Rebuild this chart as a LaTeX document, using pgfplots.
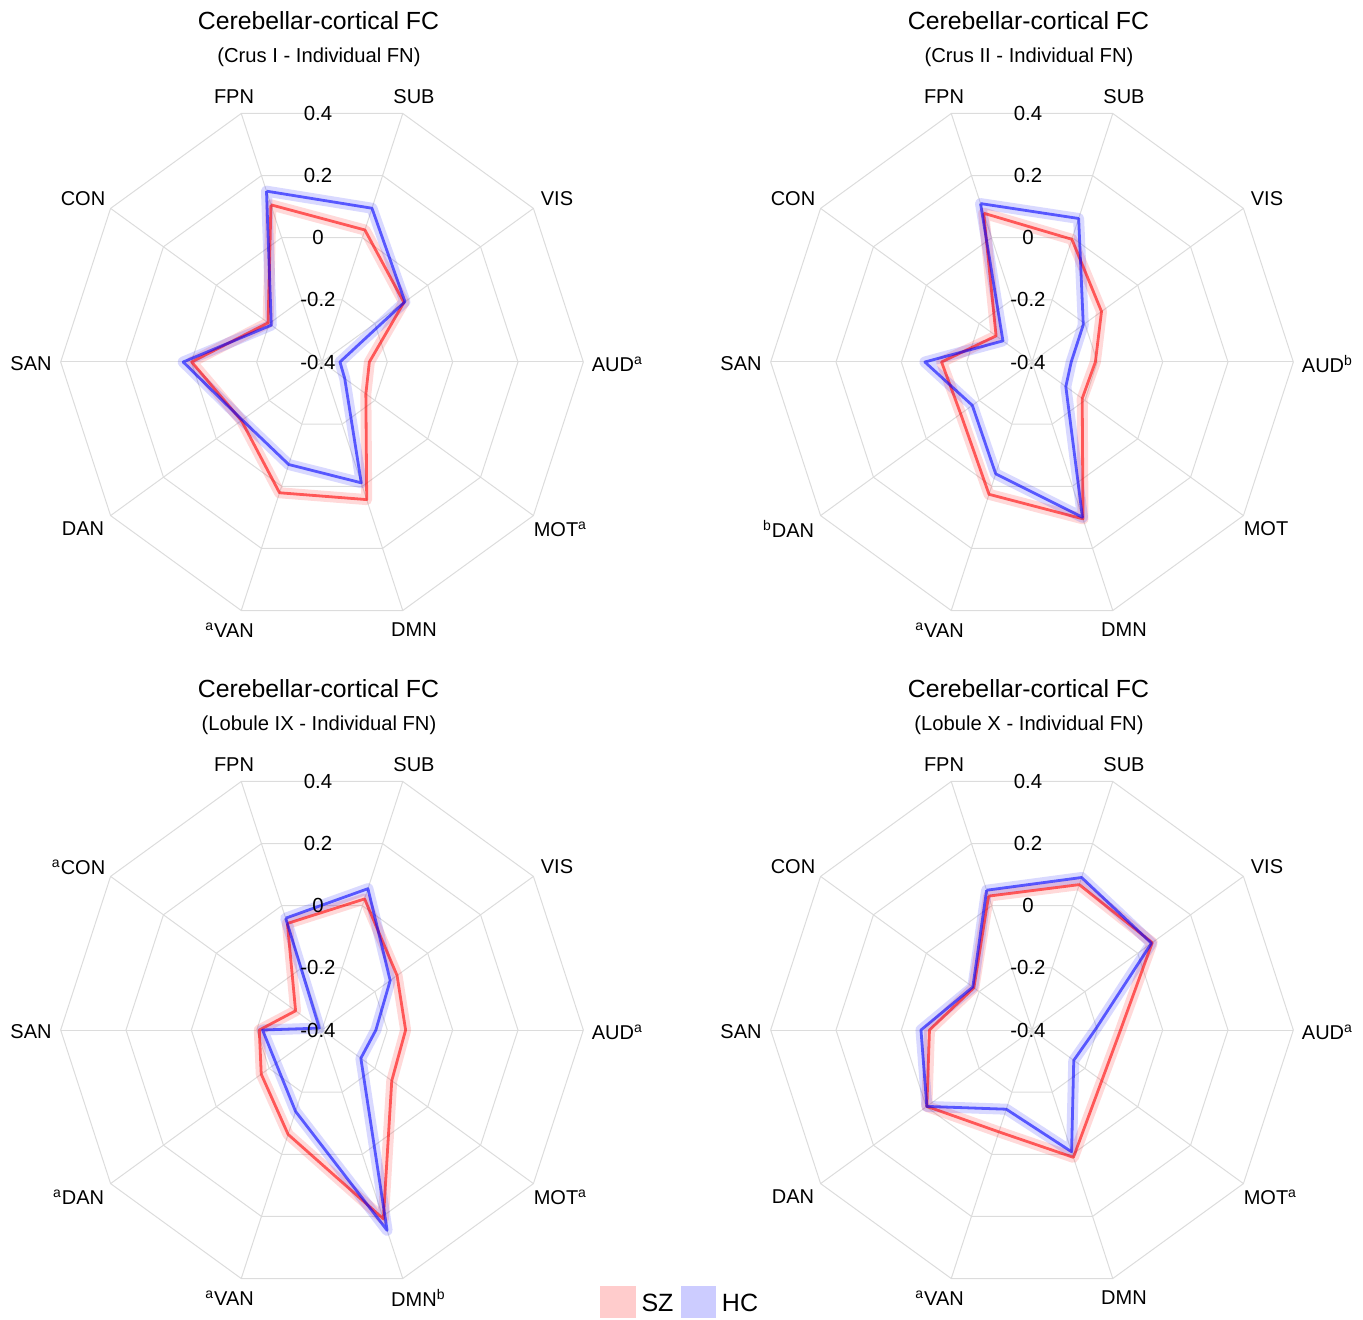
\documentclass[border=0pt]{standalone}
\usepackage{pgfplots}
\pgfplotsset{compat=1.18}
\usepackage{pgfplotstable}
\usepackage{fontspec}
\setmainfont{Liberation Sans}

\definecolor{gridc}{RGB}{220,220,220}
\definecolor{legsz}{RGB}{255,204,204}
\definecolor{leghc}{RGB}{204,204,255}

% angle (deg) of each spoke, mean FC for SZ and HC
% FPN SUB VIS AUD MOT DMN VAN DAN SAN CON (first row repeated to close)
\pgfplotstableread{
ang   SZ      HC
108   0.106   0.150
72    0.025   0.095
36   -0.090  -0.086
0    -0.255  -0.345
-36  -0.234  -0.314
-72   0.043  -0.011
-108  0.021  -0.070
-144 -0.095  -0.098
180  -0.001   0.025
144  -0.196  -0.208
108   0.106   0.150
}{\tA}
\pgfplotstableread{
ang   SZ      HC
108   0.079   0.110
72   -0.005   0.062
36   -0.137  -0.206
0    -0.206  -0.280
-36  -0.210  -0.272
-72   0.105   0.100
-108  0.026  -0.040
-144 -0.130  -0.174
180  -0.123  -0.072
144  -0.264  -0.290
108   0.079   0.110
}{\tB}
\pgfplotstableread{
ang   SZ      HC
108  -0.057  -0.040
72    0.022   0.055
36   -0.116  -0.142
0    -0.144  -0.235
-36  -0.136  -0.253
-72   0.208   0.245
-108 -0.064  -0.138
-144 -0.170  -0.226
180  -0.208  -0.218
144  -0.300  -0.390
108  -0.057  -0.040
}{\tC}
\pgfplotstableread{
ang   SZ      HC
108   0.031   0.050
72    0.068   0.091
36    0.055   0.052
0    -0.129  -0.207
-36  -0.136  -0.242
-72   0.010  -0.008
-108 -0.072  -0.145
-144 -0.002  -0.002
180  -0.086  -0.060
144  -0.180  -0.176
108   0.031   0.050
}{\tD}

\pgfplotsset{
  szband/.style={draw=red, opacity=0.15, line width=5.5pt, line join=round, line cap=round},
  hcband/.style={draw=blue, opacity=0.15, line width=5.5pt, line join=round, line cap=round},
  szline/.style={draw=red, opacity=0.6, line width=1.4pt, line join=round},
  hcline/.style={draw=blue, opacity=0.6, line width=1.4pt, line join=round},
  radar/.style={hide axis, anchor=center, x=163.3pt, y=163.3pt,
    xmin=-1, xmax=1, ymin=-1, ymax=1, clip=false},
}

\newcommand\radplot[3]{\addplot[#1] table[x expr={(\thisrow{#2}+0.4)*cos(\thisrow{ang})}, y expr={(\thisrow{#2}+0.4)*sin(\thisrow{ang})}] {#3};}

\newcommand\decor[3]{%
\begin{scope}[shift={(#1,#2)}]
\foreach \k in {1,2,3,4}{\draw[gridc, line width=0.5pt] (0:\k*65.33) \foreach \a in {36,72,...,324}{-- (\a:\k*65.33)} -- cycle;}
\foreach \a in {0,36,...,324}{\draw[gridc, line width=0.5pt] (0,0) -- (\a:261.3);}
\node[font=\fontsize{12.4}{14}\selectfont] at (-3.5,341) {Cerebellar-cortical FC};
\node[font=\fontsize{10.1}{12}\selectfont] at (-3,305) {#3};
\end{scope}}

\newcommand\ticks[2]{%
\begin{scope}[shift={(#1,#2)}, every node/.style={font=\fontsize{10.2}{12}\selectfont}]
\node at (-4,248.5) {0.4};
\node at (-4,186.4) {0.2};
\node at (-4,124.3) {0};
\node at (-4,62.1) {-0.2};
\node at (-4,0) {-0.4};
\end{scope}}

\newcommand\sa[1]{\rlap{\textsuperscript{#1}}}
\newcommand\pa[1]{\llap{\textsuperscript{#1}}}

% labels: FPN SUB VIS AUD MOT DMN VAN DAN SAN
\newcommand\labels[9]{%
\node at (-88,265) {#1};
\node at (92,265) {#2};
\node at (235,163) {#3};
\node at (291,-2) {#4};
\node at (234,-167) {#5};
\node at (92,-268) {#6};
\node at (-88,-268) {#7};
\node at (-239,-167) {#8};
\node at (-291,-2) {#9};}

\begin{document}
\begin{tikzpicture}[x=0.5pt, y=0.5pt]

\decor{322}{957}{(Crus I - Individual FN)}
\decor{1032}{957}{(Crus II - Individual FN)}
\decor{322}{289}{(Lobule IX - Individual FN)}
\decor{1032}{289}{(Lobule X - Individual FN)}

\begin{axis}[radar, at={(161pt,478.5pt)}]
\radplot{szband}{SZ}{\tA}
\radplot{hcband}{HC}{\tA}
\radplot{szline}{SZ}{\tA}
\radplot{hcline}{HC}{\tA}
\end{axis}
\begin{axis}[radar, at={(516pt,478.5pt)}]
\radplot{szband}{SZ}{\tB}
\radplot{hcband}{HC}{\tB}
\radplot{szline}{SZ}{\tB}
\radplot{hcline}{HC}{\tB}
\end{axis}
\begin{axis}[radar, at={(161pt,144.5pt)}]
\radplot{szband}{SZ}{\tC}
\radplot{hcband}{HC}{\tC}
\radplot{szline}{SZ}{\tC}
\radplot{hcline}{HC}{\tC}
\end{axis}
\begin{axis}[radar, at={(516pt,144.5pt)}]
\radplot{szband}{SZ}{\tD}
\radplot{hcband}{HC}{\tD}
\radplot{szline}{SZ}{\tD}
\radplot{hcline}{HC}{\tD}
\end{axis}

\ticks{322}{957}
\ticks{1032}{957}
\ticks{322}{289}
\ticks{1032}{289}

\begin{scope}[shift={(322,957)}, every node/.style={font=\fontsize{10}{12}\selectfont}]
\labels{FPN}{SUB}{VIS}{AUD\sa{a}}{MOT\sa{a}}{DMN}{\pa{a}VAN}{DAN}{SAN}
\node at (-239,163) {CON};
\end{scope}
\begin{scope}[shift={(1032,957)}, every node/.style={font=\fontsize{10}{12}\selectfont}]
\labels{FPN}{SUB}{VIS}{AUD\sa{b}}{MOT}{DMN}{\pa{a}VAN}{\pa{b}DAN}{SAN}
\node at (-239,163) {CON};
\end{scope}
\begin{scope}[shift={(322,289)}, every node/.style={font=\fontsize{10}{12}\selectfont}]
\labels{FPN}{SUB}{VIS}{AUD\sa{a}}{MOT\sa{a}}{DMN\sa{b}}{\pa{a}VAN}{\pa{a}DAN}{SAN}
\node at (-239,163) {\pa{a}CON};
\end{scope}
\begin{scope}[shift={(1032,289)}, every node/.style={font=\fontsize{10}{12}\selectfont}]
\labels{FPN}{SUB}{VIS}{AUD\sa{a}}{MOT\sa{a}}{DMN}{\pa{a}VAN}{DAN}{SAN}
\node at (-239,163) {CON};
\end{scope}

% legend
\fill[legsz] (600,1) rectangle (636,33);
\node[font=\fontsize{12.5}{14}\selectfont] at (657.5,16) {SZ};
\fill[leghc] (681,1) rectangle (716,33);
\node[font=\fontsize{12.5}{14}\selectfont] at (740,16) {HC};

\pgfresetboundingbox
\path[use as bounding box] (0,0) rectangle (1363,1319);
\end{tikzpicture}
\end{document}
